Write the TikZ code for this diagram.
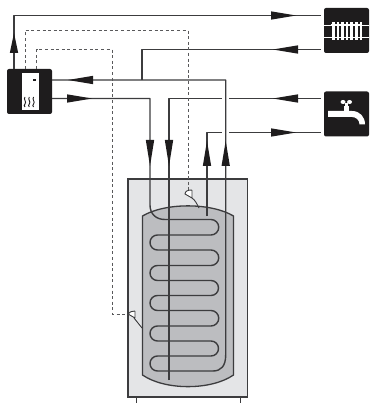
\documentclass[tikz,border=0pt]{standalone}
\usetikzlibrary{calc}
\definecolor{pipe}{HTML}{3C3C3E}
\definecolor{shell}{HTML}{E4E5E7}
\definecolor{tank}{HTML}{BCBDC0}
\definecolor{ink}{HTML}{1E1C1D}
\tikzset{
  pipeline/.style={draw=pipe,line width=1.4pt,line join=round},
  sensorline/.style={draw=pipe!85,line width=1pt,dash pattern=on 3pt off 2.6pt},
  iconbox/.style={fill=ink,rounded corners=2pt,minimum width=45pt,minimum height=45pt,inner sep=0pt,outer sep=0pt},
  wedge/.style={fill=ink,draw=none},
  wall/.style={draw=pipe,line width=1.3pt},
  probe/.style={draw=pipe,line width=0.9pt,line join=round}
}
% wedge arrowhead: #1 tip, #2 centre of the wide end
\newcommand{\wedgehead}[2]{%
  \fill[wedge] ($(#2)!4.2pt!90:(#1)$) .. controls ($(#2)!0.5!(#1)+($(#2)!2pt!90:(#1)$)-(#2)$) .. (#1)
    .. controls ($(#2)!0.5!(#1)+($(#2)!2pt!-90:(#1)$)-(#2)$) .. ($(#2)!4.2pt!-90:(#1)$) -- cycle;}
\begin{document}
\begin{tikzpicture}[x=1pt,y=-1pt]
\useasboundingbox (0,0) rectangle (369,403);
% shell and stand
\draw[draw=pipe,line width=1pt] (136,397) -- (136,403) (240,397) -- (240,403);
\draw[wall,fill=shell] (128,179) rectangle (247.5,397);
% tank
\draw[wall,fill=tank] (142.5,216) .. controls (165,202.5) and (211,202.5) .. (233.5,216) -- (233.5,375)
  .. controls (211,390.5) and (165,390.5) .. (142.5,375) -- cycle;
% nodes
\node[iconbox] (boiler) at (29.5,91.5) {};
\node[iconbox] (rad) at (346.5,30.5) {};
\node[iconbox] (tap) at (346.5,114) {};
% boiler icon
\fill[white] (21.5,73) rectangle (38.5,110);
\fill[ink] (33,79) rectangle (36,81.5);
\foreach \sx in {25,29.3,33.6}
  \draw[ink,line width=0.9pt] (\sx,97) .. controls (\sx-2,99.5) and (\sx+2,101.5) .. (\sx,104) .. controls (\sx-1,105.5) .. (\sx,107);
% radiator icon
\draw[white,line width=0.4pt] (324,25) -- (369,25) (324,37.5) -- (369,37.5);
\draw[white,line width=1.4pt] (330.5,25) -- (362,25) (330.5,37.5) -- (362,37.5);
\foreach \rx in {332,336.6,341.2,345.8,350.4,355,359.6}
  \fill[white] (\rx,22) rectangle +(2.5,18.5);
% tap icon
\fill[white] (328,111) -- (352,111) .. controls (360,111) and (365,117) .. (365,124.5) -- (359.5,124.5)
  .. controls (359.5,120) and (356,117) .. (352,117) -- (328,117) -- cycle;
\fill[white] (344,106) rectangle (349,111);
\fill[white] (345,103) rectangle (348,106);
\fill[white] (343,102) ellipse (2.5 and 2) (349.5,102) ellipse (2.5 and 2);
% coordinates on the nodes
\coordinate (boilerUp) at ($(boiler.north west)+(7,0)$);
\coordinate (boilerSa) at ($(boiler.north west)+(18,0)$);
\coordinate (boilerSb) at ($(boiler.north west)+(29.5,0)$);
\coordinate (boilerA) at ($(boiler.north east)+(0,11)$);
\coordinate (boilerB) at ($(boiler.north east)+(0,29.5)$);
\coordinate (radIn) at ($(rad.north west)+(-3,7.5)$);
\coordinate (radOut) at ($(rad.north west)+(-3,41.5)$);
\coordinate (tapIn) at ($(tap.north west)+(-3,7)$);
\coordinate (tapOut) at ($(tap.north west)+(-3,41)$);
% solid pipes
\draw[pipeline] (boilerUp) -- (14,15.5) -- (radIn);
\draw[pipeline] (radOut) -- (142,49.5) -- (142,80);
\draw[pipeline] (boilerA) -- (225.7,80) -- (225.7,355) .. controls (225.7,366) and (221,371) .. (213,371);
\draw[pipeline] (boilerB) -- (150,98.5) -- (150,205) .. controls (150,214) and (156,219.5) .. (165,219.5)
  -- (211,219.5) arc[start angle=-90,end angle=90,radius=7.75]
  -- (157.5,235) arc[start angle=-90,end angle=-270,radius=7.5]
  -- (211,250) arc[start angle=-90,end angle=90,radius=7.75]
  -- (157.5,265.5) arc[start angle=-90,end angle=-270,radius=7.5]
  -- (211,280.5) arc[start angle=-90,end angle=90,radius=7.5]
  -- (157.5,295.5) arc[start angle=-90,end angle=-270,radius=7.5]
  -- (211,310.5) arc[start angle=-90,end angle=90,radius=7.75]
  -- (157.5,326) arc[start angle=-90,end angle=-270,radius=7.5]
  -- (211,341) arc[start angle=-90,end angle=90,radius=7.5]
  -- (157.5,356) arc[start angle=-90,end angle=-270,radius=7.5] -- (213,371);
\draw[pipeline] (169,380) -- (169,98.5) -- (222,98.5);
\draw[pipeline] (229,98.5) -- (tapIn);
\draw[pipeline] (207,216) -- (207,132.5) -- (222,132.5);
\draw[pipeline] (229,132.5) -- (tapOut);
% sensors
\draw[sensorline] (boilerSa) -- (25,30.5) -- (188,30.5) -- (188,190);
\draw[sensorline] (boilerSb) -- (36.5,49.5) -- (112,49.5) -- (112,314) -- (128,314);
\draw[probe,fill=white] (192,190) -- (192,198) -- (185,194) .. controls (185,191) and (188,190) .. (192,190);
\draw[probe] (192,198) .. controls (195,200) and (197,204) .. (199,208);
\draw[probe,fill=white] (135,311) -- (135,318) -- (128,314) .. controls (129,312) and (132,311) .. (135,311);
\draw[probe] (134,318) -- (142,328);
% arrowheads
\wedgehead{14,33}{14,53}
\wedgehead{296,15.5}{271,15.5}
\wedgehead{273,49.5}{298,49.5}
\wedgehead{68,80}{93,80}
\wedgehead{92,98.5}{67,98.5}
\wedgehead{273,98.5}{298,98.5}
\wedgehead{296,132.5}{271,132.5}
\wedgehead{150,166}{150,140}
\wedgehead{169,166}{169,140}
\wedgehead{207,141}{207,166}
\wedgehead{225.7,141}{225.7,166}
\end{tikzpicture}
\end{document}
